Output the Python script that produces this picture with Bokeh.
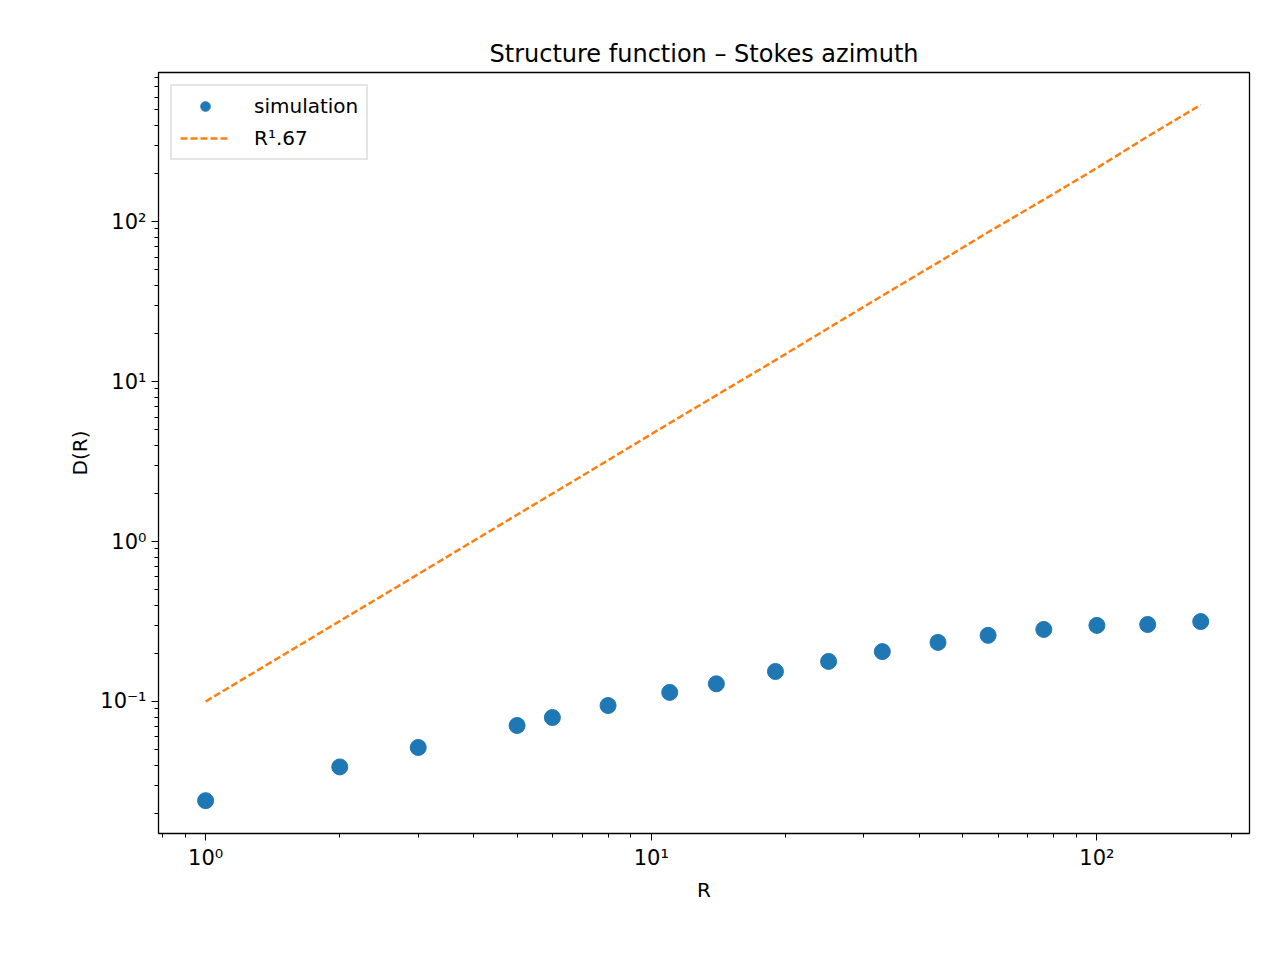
from bokeh.plotting import figure
from bokeh.embed import file_html
from bokeh.resources import INLINE
from bokeh.models import CustomJSTickFormatter, LogTicker, Legend, LegendItem

# data
R = [1, 2, 3, 5, 6, 8, 11, 14, 19, 25, 33, 44, 57, 76, 100, 130, 171]
D_sim = [0.024, 0.039, 0.0516, 0.0708, 0.0794, 0.0944, 0.114, 0.129, 0.154, 0.178,
         0.205, 0.234, 0.259, 0.282, 0.299, 0.303, 0.316]
D_fit = [0.1, 0.318, 0.625, 1.47, 1.99, 3.22, 5.5, 8.2, 13.6, 21.6,
         34.4, 55.4, 85.7, 137, 216, 340, 536]

font = "DejaVu Sans"

p = figure(width=1264, height=944, x_axis_type="log", y_axis_type="log",
           x_range=(0.784, 220), y_range=(0.01496, 854),
           output_backend="svg", toolbar_location=None,
           min_border_left=158, min_border_right=15, min_border_top=72, min_border_bottom=111,
           title="Structure function – Stokes azimuth")
p.title.align = "center"
p.title.text_font = font
p.title.text_font_size = "24px"
p.title.text_font_style = "normal"
p.title.text_color = "black"

sim = p.scatter(R, D_sim, size=16, color="#1f77b4")
fit = p.line(R, D_fit, line_color="#ff7f0e", line_width=2.5, line_dash="7 3")

legend = Legend(items=[LegendItem(label="simulation", renderers=[sim]),
                       LegendItem(label="R¹.67", renderers=[fit])],
                location="top_left", label_text_font=font, label_text_font_size="20px",
                label_text_color="black",
                border_line_color="#cccccc", border_line_width=2,
                glyph_width=50, glyph_height=24, spacing=8, padding=8, margin=12,
                label_standoff=24)
p.add_layout(legend)

fmt = CustomJSTickFormatter(code="""
const sup = {'-':'⁻','0':'⁰','1':'¹','2':'²','3':'³','4':'⁴','5':'⁵','6':'⁶','7':'⁷','8':'⁸','9':'⁹'};
const e = Math.round(Math.log10(tick));
return '10' + String(e).split('').map(c => sup[c]).join('');
""")
for ax in [p.xaxis[0], p.yaxis[0]]:
    ax.ticker = LogTicker(mantissas=[1], num_minor_ticks=10)
    ax.formatter = fmt
    ax.major_label_text_font = font
    ax.major_label_text_font_size = "21px"
    ax.major_label_text_color = "black"
    ax.axis_label_text_font = font
    ax.axis_label_text_font_size = "20px"
    ax.axis_label_text_font_style = "normal"
    ax.axis_label_text_color = "black"
    ax.major_tick_in = 0
    ax.major_tick_out = 7
    ax.minor_tick_in = 0
    ax.minor_tick_out = 4
    ax.axis_line_color = None
    ax.major_tick_line_color = "black"
    ax.minor_tick_line_color = "black"

p.xaxis.axis_label = "R"
p.yaxis.axis_label = "D(R)"
p.grid.grid_line_color = None
p.outline_line_color = "black"
p.outline_line_width = 1.3

open("out.html", "w").write(file_html(p, INLINE))
